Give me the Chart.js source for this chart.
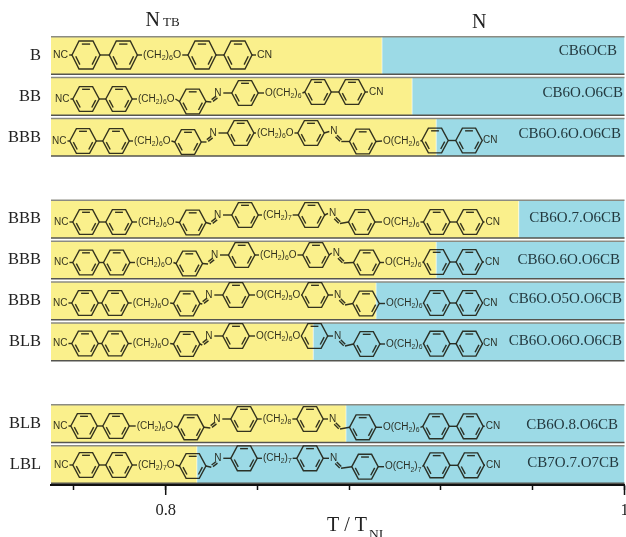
<!DOCTYPE html>
<html lang="en">
<head>
<meta charset="UTF-8">
<title>NTB - N transition temperatures</title>
<script src="https://cdn.jsdelivr.net/npm/chart.js"></script>
<style>
  body { margin: 0; background: white; overflow: hidden; }
  canvas { display: block; }
</style>
</head>
<body>
<canvas id="chart" width="626" height="537"></canvas>
<script>
// blank entries are the gaps between the three groups
const rowLabels = ['B', 'BB', 'BBB', '', 'BBB', 'BBB', 'BBB', 'BLB', '', 'BLB', 'LBL'];
const compounds = ['CB6OCB', 'CB6O.O6CB', 'CB6O.6O.O6CB', '', 'CB6O.7.O6CB', 'CB6O.6O.O6CB',
                   'CB6O.O5O.O6CB', 'CB6O.O6O.O6CB', '', 'CB6O.8.O6CB', 'CB7O.7.O7CB'];
const transitions = [0.8943, 0.9074, 0.9179, null, 0.9539, 0.9179, 0.8917, 0.8643, null, 0.8786, 0.8136];
const axisStart = 0.75;
const axisEnd = 1;
const tickValues = [0.76, 0.8, 0.84, 0.88, 0.92, 0.96, 1];
const labelledTicks = [0.8, 1];

const serif = '"Liberation Serif", serif';
const sans = '"Liberation Sans", sans-serif';
const yellow = '#faf08c';
const blue = '#9cdae6';

// where the compound names sit: right edge and offset from the row centre
const nameRight = [617, 623, 621, 0, 621, 620, 622, 622, 0, 618, 619];
const nameShift = [-4, -3, -3, 0, -1, 0, -2, -1, 0, 1, -1];

// skeletal formulas, left to right. r = ring, t = text, a = C=N going up, b = N=C going down
const structures = [
  [['t','NC',53,55],['r',86,55],['r',123.3,55],['t','(CH2)6O',143,55],['r',202,55],['r',238,55],['t','CN',257,55]],
  [['t','NC',55,99],['r',86,99],['r',119,99],['t','(CH2)6O',138,99],['r',192.7,101.5],['a',218.3,93],['r',245,93],
   ['t','O(CH2)6',265,93],['r',318,92],['r',352,92],['t','CN',369,92]],
  [['t','NC',52,141],['r',83,141],['r',116,141],['t','(CH2)6O',134,141],['r',188,142],['a',213.5,133],['r',240.7,133],
   ['t','(CH2)6O',257,133],['r',311,133],['b',334.3,131.5],['r',362.7,141.5],['t','O(CH2)6',383,141],['r',435,140.5],['r',469,140.5],['t','CN',483,140.5]],
  [['t','NC',54,222],['r',86,222],['r',119,222],['t','(CH2)6O',138,222],['r',192.7,222.5],['a',218,215],['r',245,215],
   ['t','(CH2)7',263,215],['r',311.5,215],['b',333,213.5],['r',361.7,222],['t','O(CH2)6',383,222],['r',436.7,222],['r',470,222],['t','CN',485.5,222]],
  [['t','NC',54,262.5],['r',86,262.5],['r',116.7,262.5],['t','(CH2)6O',136,262.5],['r',189.3,263.5],['a',215,255],['r',241.7,255],
   ['t','(CH2)6O',260,255],['r',316,255],['b',336.7,253],['r',366.7,262.5],['t','O(CH2)6',385,262.5],['r',436.7,262],['r',469.3,262],['t','CN',485,262]],
  [['t','NC',53,303],['r',85,303],['r',115,303],['t','(CH2)6O',132.7,303],['r',186.7,303.5],['a',209.3,295],['r',236,295],
   ['t','O(CH2)5O',256,295],['r',315,295],['b',338,295],['r',366,303.5],['t','O(CH2)6',386,303.5],['r',436.7,303],['r',469.3,303],['t','CN',483,303]],
  [['t','NC',53,343.5],['r',85,343.5],['r',115,343.5],['t','(CH2)6O',132.7,343.5],['r',186.7,344],['a',209.3,336],['r',236,336],
   ['t','O(CH2)6O',256,336],['r',314.5,336],['b',338,336],['r',366.7,344],['t','O(CH2)6',386,344],['r',436.7,343.7],['r',469.3,343.7],['t','CN',483,343.7]],
  [['t','NC',53,426],['r',84,426],['r',116,426],['t','(CH2)6O',136.7,426],['r',190.7,427.3],['a',217.3,419],['r',244,419],
   ['t','(CH2)8',262.7,419],['r',310,419],['b',333,419],['r',362.7,427.3],['t','O(CH2)6',383,427.3],['r',436,426.3],['r',470,426.3],['t','CN',485.7,426.3]],
  [['t','NC',54,465],['r',86,465],['r',119,465],['t','(CH2)7O',138,465],['r',192.7,466],['a',218.3,458.3],['r',244,458.3],
   ['t','(CH2)7',263,458.3],['r',310,458.3],['b',334,458.3],['r',365,466.7],['t','O(CH2)7',385,466.7],['r',436.7,465.3],['r',471,465.3],['t','CN',486,465.3]]
];

// the first formula is printed a little larger than the others
let ringX = 13.2, ringY = 12.4, textSize = 10;

function drawRing(ctx, x, y) {
  const pts = [[-ringX,0],[-ringX/2,-ringY],[ringX/2,-ringY],[ringX,0],[ringX/2,ringY],[-ringX/2,ringY]];
  ctx.beginPath();
  pts.forEach((p, i) => i ? ctx.lineTo(x+p[0], y+p[1]) : ctx.moveTo(x+p[0], y+p[1]));
  ctx.closePath();
  ctx.stroke();
  // inner lines of the double bonds
  [1, 3, 5].forEach(i => {
    const p = pts[i], q = pts[(i+1) % 6];
    const s = 0.78, t = 0.12;
    ctx.beginPath();
    ctx.moveTo(x + s*(p[0]+t*(q[0]-p[0])), y + s*(p[1]+t*(q[1]-p[1])));
    ctx.lineTo(x + s*(q[0]+t*(p[0]-q[0])), y + s*(q[1]+t*(p[1]-q[1])));
    ctx.stroke();
  });
}

// writes a formula with the digits lowered, returns its end
function drawFormula(ctx, str, x, y) {
  for (const ch of str) {
    const low = /[0-9]/.test(ch);
    ctx.font = (low ? textSize * 0.68 : textSize) + 'px ' + sans;
    ctx.fillText(ch, x, low ? y + 3 : y);
    x += ctx.measureText(ch).width;
  }
  return x;
}

function bond(ctx, x1, y1, x2, y2) {
  ctx.beginPath();
  ctx.moveTo(x1, y1);
  ctx.lineTo(x2, y2);
  ctx.stroke();
}

function doubleBond(ctx, x1, y1, x2, y2) {
  const dx = x2-x1, dy = y2-y1, len = Math.hypot(dx, dy);
  const ox = -dy/len*1.1, oy = dx/len*1.1;
  bond(ctx, x1+ox, y1+oy, x2+ox, y2+oy);
  bond(ctx, x1-ox, y1-oy, x2-ox, y2-oy);
}

function drawStructure(ctx, parts) {
  ctx.textAlign = 'left';
  ctx.textBaseline = 'middle';
  let prev = null;
  parts.forEach(part => {
    const kind = part[0];
    const x = kind === 't' ? part[2] : part[1];
    const y = kind === 't' ? part[3] : part[2];
    let inX, inY, out;
    if (kind === 'r') {
      inX = x - ringX; inY = y;
      out = [x + ringX, y];
      drawRing(ctx, x, y);
    } else if (kind === 't') {
      inX = x - 1; inY = y;
      const end = drawFormula(ctx, part[1], x, y);
      out = [end + 1, y];
    } else if (kind === 'a') {
      inX = x - 7; inY = y + 9;
      doubleBond(ctx, inX + 1, inY - 1.5, x - 1.5, y + 4);
      drawFormula(ctx, 'N', x - 4, y);
      out = [x + 5, y];
    } else {
      inX = x - 5; inY = y;
      drawFormula(ctx, 'N', x - 4, y);
      doubleBond(ctx, x + 2, y + 4.5, x + 6.5, y + 9);
      out = [x + 7, y + 10];
    }
    if (prev) bond(ctx, prev[0], prev[1], inX, inY);
    prev = out;
  });
}

const annotations = {
  id: 'annotations',
  afterDatasetsDraw(chart) {
    const ctx = chart.ctx;
    const xs = chart.scales.x;
    const left = xs.left, right = xs.right;
    const bars = chart.getDatasetMeta(0).data;
    ctx.save();

    // longer ticks on the labelled values
    ctx.strokeStyle = '#111';
    ctx.lineWidth = 1.5;
    labelledTicks.forEach(v => {
      const px = xs.getPixelForValue(v);
      bond(ctx, px, xs.top, px, xs.top + 10);
    });

    // rules along each row and the light edge at the transition
    rowLabels.forEach((label, i) => {
      if (transitions[i] === null) return;
      const top = bars[i].y - bars[i].height/2;
      const bottom = bars[i].y + bars[i].height/2;
      ctx.strokeStyle = '#8b8b82';
      ctx.lineWidth = 1.5;
      bond(ctx, left, top, right, top);
      ctx.strokeStyle = '#55554f';
      bond(ctx, left, bottom, right, bottom);
      const edge = xs.getPixelForValue(transitions[i]);
      ctx.strokeStyle = 'rgba(255,255,255,0.6)';
      ctx.lineWidth = 1;
      bond(ctx, edge, top + 1, edge, bottom - 1);
    });

    // molecules
    ctx.strokeStyle = 'rgba(30,30,18,0.9)';
    ctx.fillStyle = 'rgba(30,30,18,0.92)';
    ctx.lineWidth = 1.4;
    structures.forEach((parts, i) => {
      ringX = i === 0 ? 14 : 13.2;
      ringY = i === 0 ? 14 : 12.4;
      textSize = i === 0 ? 10.5 : 10;
      drawStructure(ctx, parts);
    });

    // compound names
    ctx.font = '15px ' + serif;
    ctx.textAlign = 'right';
    ctx.textBaseline = 'middle';
    ctx.fillStyle = '#23393f';
    compounds.forEach((name, i) => {
      if (name) ctx.fillText(name, nameRight[i], bars[i].y + nameShift[i]);
    });

    // phase headers and axis title
    ctx.fillStyle = '#222';
    ctx.textAlign = 'left';
    ctx.textBaseline = 'alphabetic';
    ctx.font = '20px ' + serif;
    ctx.fillText('N', 145.5, 26);
    ctx.fillText('N', 472, 28);
    ctx.font = '13px ' + serif;
    ctx.fillText('TB', 163, 26);
    ctx.font = '20px ' + serif;
    ctx.fillText('T / T', 327, 531);
    ctx.font = '13.5px ' + serif;
    ctx.fillText('NI', 369, 538);
    ctx.restore();
  }
};

new Chart(document.getElementById('chart'), {
  type: 'bar',
  data: {
    labels: rowLabels,
    datasets: [
      { label: 'NTB', data: transitions.map(t => t === null ? null : [axisStart, t]), backgroundColor: yellow },
      { label: 'N', data: transitions.map(t => t === null ? null : [t, axisEnd]), backgroundColor: blue }
    ]
  },
  options: {
    indexAxis: 'y',
    responsive: false,
    animation: false,
    layout: { padding: { top: 35, right: 1.5, bottom: 0, left: 0 } },
    plugins: { legend: { display: false }, tooltip: { enabled: false } },
    datasets: { bar: { grouped: false, barPercentage: 0.92, categoryPercentage: 1 } },
    scales: {
      x: {
        type: 'linear',
        min: axisStart,
        max: axisEnd,
        afterBuildTicks: s => { s.ticks = tickValues.map(v => ({ value: v })); },
        afterFit: s => { s.height = 52; s.paddingLeft = 0; s.paddingRight = 0; },
        grid: { display: true, drawOnChartArea: false, tickLength: 5, tickColor: '#111', tickWidth: 1.5 },
        border: { color: '#111', width: 2 },
        ticks: {
          autoSkip: false,
          maxRotation: 0,
          padding: 11,
          color: '#222',
          font: { family: serif, size: 16.5 },
          callback: v => labelledTicks.includes(v) ? String(v) : ''
        }
      },
      y: {
        type: 'category',
        afterFit: s => { s.width = 51; },
        grid: { display: false, drawTicks: false },
        border: { display: false },
        ticks: {
          autoSkip: false,
          padding: 10,
          color: '#222',
          font: { family: serif, size: 16.5 }
        }
      }
    }
  },
  plugins: [annotations]
});
</script>
</body>
</html>
